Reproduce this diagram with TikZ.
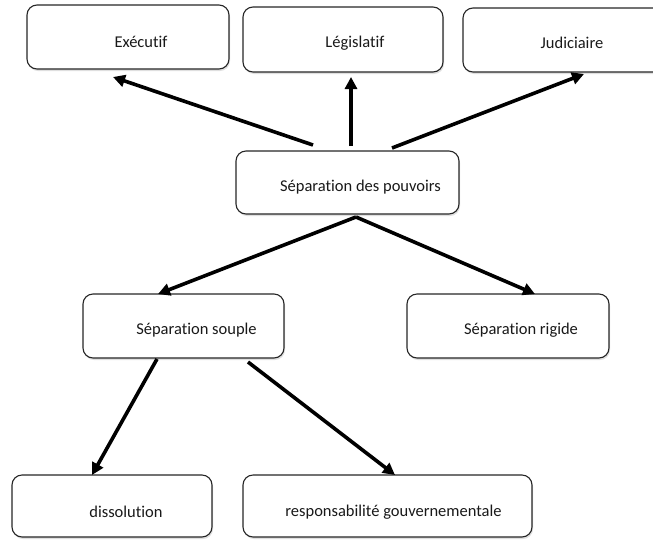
\documentclass[tikz,border=0pt]{standalone}
\usepackage{fontspec}
\setmainfont[Ligatures={NoCommon,NoContextual}]{Carlito}
\usetikzlibrary{arrows.meta,shadows}
\begin{document}
\begin{tikzpicture}[x=1pt,y=-1pt,
  box/.style={draw=black!85, line width=1.1pt, rounded corners=10pt, fill=white,
    inner sep=0pt, drop shadow={shadow xshift=1pt, shadow yshift=-2pt, opacity=0.25}},
  lbl/.style={font=\fontsize{16.5}{19}\selectfont, text=black!90, inner sep=0pt},
  arr/.style={line width=3.6pt, black, -{Triangle[length=12pt,width=12pt]}}]
\useasboundingbox (0,0) rectangle (653,539);
\clip (0,0) rectangle (653,539);

\node[box, minimum width=202pt, minimum height=64pt,
  label={[lbl,xshift=13pt,yshift=-5pt]center:Exécutif}] (exec) at (128,37) {};
\node[box, minimum width=200pt, minimum height=65pt,
  label={[lbl,xshift=12pt,yshift=-4pt]center:Législatif}] (legis) at (343,39.5) {};
\node[box, minimum width=200pt, minimum height=64pt,
  label={[lbl,xshift=9pt,yshift=-3pt]center:Judiciaire}] (judic) at (563,40) {};
\node[box, minimum width=223pt, minimum height=63pt,
  label={[lbl,xshift=13pt,yshift=-4.5pt]center:Séparation des pouvoirs}] (sep) at (347.5,182.5) {};
\node[box, minimum width=201pt, minimum height=64pt,
  label={[lbl,xshift=13pt,yshift=-4pt]center:Séparation souple}] (souple) at (183.5,326) {};
\node[box, minimum width=202pt, minimum height=64pt,
  label={[lbl,xshift=13pt,yshift=-4pt]center:Séparation rigide}] (rigide) at (508,326) {};
\node[box, minimum width=200pt, minimum height=62pt,
  label={[lbl,xshift=14pt,yshift=-6pt]center:dissolution}] (dissol) at (112,506) {};
\node[box, minimum width=289pt, minimum height=62pt,
  label={[lbl,xshift=6pt,yshift=-6pt]center:responsabilité gouvernementale}] (respons) at (387.5,506) {};

% connector ends
\coordinate (s1) at (313,145);
\coordinate (s2) at (351,146);
\coordinate (s3) at (392,148);
\coordinate (s4) at (356,217);
\coordinate (t1) at (113,77);
\coordinate (t2) at (351,77);
\coordinate (t3) at (584,74);
\coordinate (t4) at (158,294);
\coordinate (t5) at (535,294);
\coordinate (s6) at (157,359);
\coordinate (t6) at (92,475);
\coordinate (s7) at (248,362);
\coordinate (t7) at (395,475);

\draw[arr] (s1) -- (t1);
\draw[arr] (s2) -- (t2);
\draw[arr] (s3) -- (t3);
\draw[arr] (s4) -- (t4);
\draw[arr] (s4) -- (t5);
\draw[arr] (s6) -- (t6);
\draw[arr] (s7) -- (t7);
\end{tikzpicture}
\end{document}
